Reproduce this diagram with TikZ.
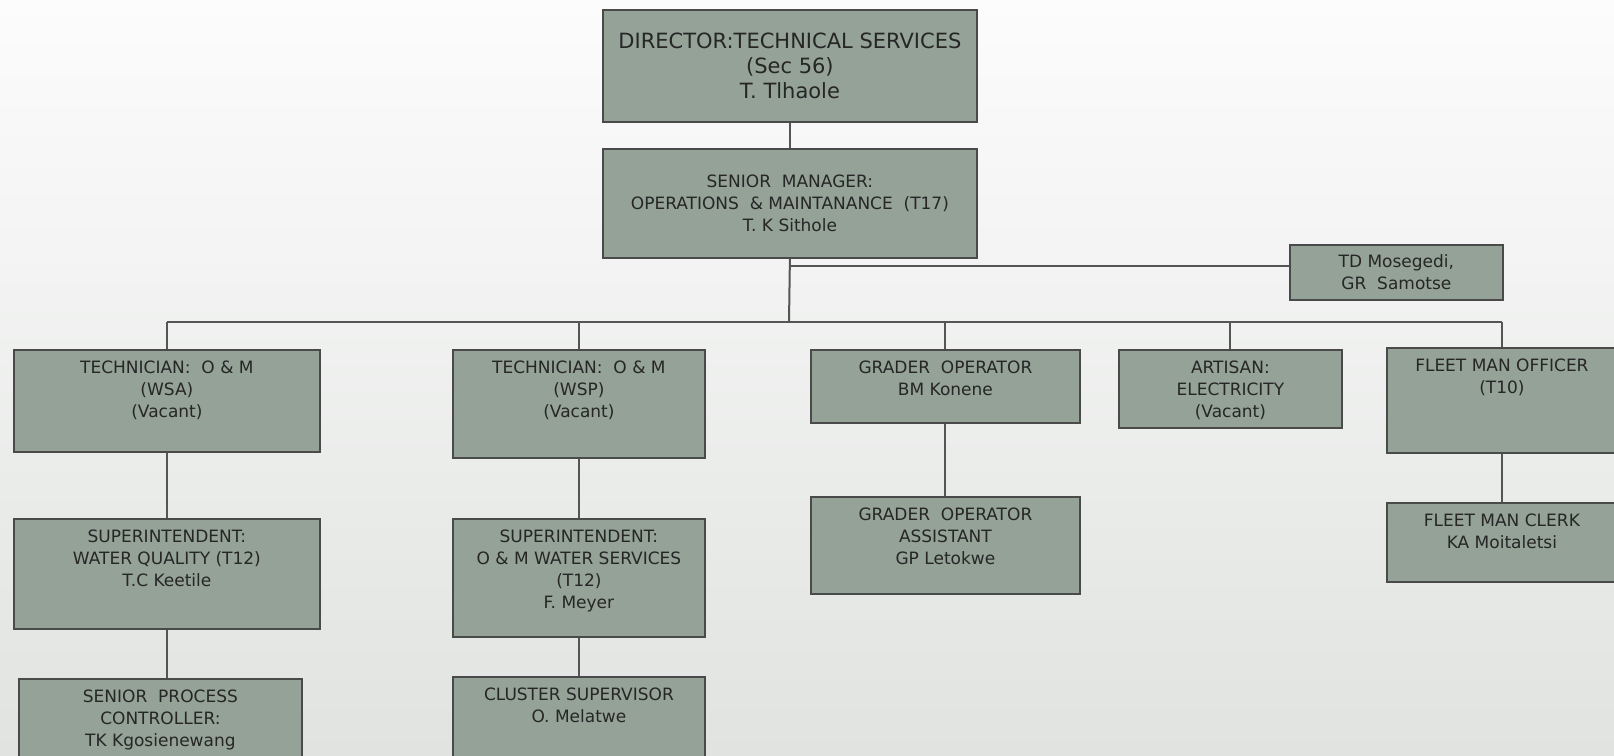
\documentclass[tikz,border=0pt]{standalone}
\usepackage{fontspec}
\setmainfont{DejaVu Sans}
\usepackage{tikz}

\definecolor{postfill}{HTML}{94A297}
\definecolor{postline}{HTML}{4A4A4A}
\definecolor{linkline}{HTML}{555555}
\definecolor{posttext}{HTML}{262626}
\definecolor{bgtop}{HTML}{FCFCFC}
\definecolor{bgbottom}{HTML}{E0E3E0}

\newcommand{\postfont}{\fontsize{17}{22}\selectfont}
\newcommand{\headfont}{\fontsize{21}{25}\selectfont}
% width, height, text (t = text at the top, c = centred)
\newcommand{\postbox}[4][t]{\parbox[c][#3pt][#1]{#2pt}{\centering\ifx t#1\vspace*{11pt}\fi#4}}

\tikzstyle{post} = [rectangle, draw=postline, fill=postfill, line width=1.8pt, inner sep=0pt, anchor=north west, text=posttext, font=\postfont]
\tikzstyle{link} = [draw=linkline, line width=2pt]

\begin{document}
\begin{tikzpicture}[x=1pt, y=-1pt]
  \shade[top color=bgtop, bottom color=bgbottom] (0,0) rectangle (1614,755);
  \useasboundingbox (0,0) rectangle (1614,755);

  \node (dir) [post, font=\headfont] at (602, 9) {\postbox[c]{374}{112}{DIRECTOR:TECHNICAL SERVICES\\(Sec 56)\\T. Tlhaole}};
  \node (sm) [post] at (602, 148) {\postbox[c]{374}{109}{SENIOR~~MANAGER:\\OPERATIONS~~\& MAINTANANCE~~(T17)\\T. K Sithole}};
  \node (td) [post] at (1289, 244) {\postbox[c]{213}{55}{TD Mosegedi,\\GR~~Samotse}};

  \node (wsa) [post] at (13, 349) {\postbox{306}{102}{TECHNICIAN:~~O \& M\\(WSA)\\(Vacant)}};
  \node (wsp) [post] at (452, 349) {\postbox{252}{108}{TECHNICIAN:~~O \& M\\(WSP)\\(Vacant)}};
  \node (grader) [post] at (810, 349) {\postbox{269}{73}{GRADER~~OPERATOR\\BM Konene}};
  \node (artisan) [post] at (1118, 349) {\postbox{223}{78}{ARTISAN:\\ELECTRICITY\\(Vacant)}};
  \node (fleet) [post] at (1386, 347) {\postbox{230}{105}{FLEET MAN OFFICER\\(T10)}};

  \node (swq) [post] at (13, 518) {\postbox{306}{110}{SUPERINTENDENT:\\WATER QUALITY (T12)\\T.C Keetile}};
  \node (som) [post] at (452, 518) {\postbox{252}{118}{SUPERINTENDENT:\\O \& M WATER SERVICES\\(T12)\\F. Meyer}};
  \node (assist) [post] at (810, 496) {\postbox{269}{97}{GRADER~~OPERATOR\\ASSISTANT\\GP Letokwe}};
  \node (clerk) [post] at (1386, 502) {\postbox{230}{79}{FLEET MAN CLERK\\KA Moitaletsi}};

  \node (spc) [post] at (18, 678) {\postbox{283}{95}{SENIOR~~PROCESS\\CONTROLLER:\\TK Kgosienewang}};
  \node (cluster) [post] at (452, 676) {\postbox{252}{95}{CLUSTER SUPERVISOR\\O. Melatwe}};

  \coordinate (tdjoin) at (789, 266);
  \coordinate (bus) at (789, 322);

  \draw[link] (dir.south) -- (sm.north);
  \draw[link] (sm.south) -- (bus);
  \draw[link] (tdjoin) -- (tdjoin -| td.west);
  \draw[link] (bus -| wsa.north) -- (bus -| fleet.north);
  \foreach \n in {wsa, wsp, grader, artisan, fleet}
    \draw[link] (bus -| \n.north) -- (\n.north);

  \draw[link] (wsa.south) -- (swq.north);
  \draw[link] (swq.south) -- (swq.south |- spc.north);
  \draw[link] (wsp.south) -- (som.north);
  \draw[link] (som.south) -- (cluster.north);
  \draw[link] (grader.south) -- (assist.north);
  \draw[link] (fleet.south) -- (clerk.north);

\end{tikzpicture}
\end{document}
